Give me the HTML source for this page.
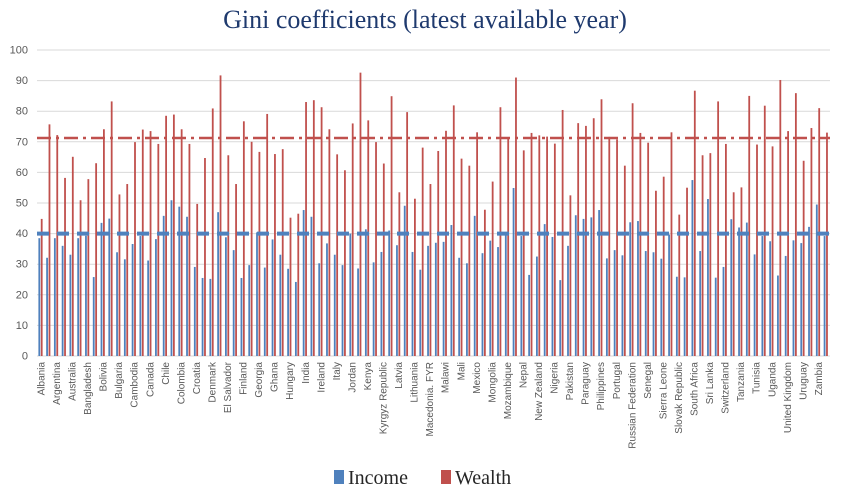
<!DOCTYPE html>
<html><head><meta charset="utf-8"><style>
html,body{margin:0;padding:0;background:#fff;}
svg{display:block;}
.yl{font-family:"Liberation Sans",sans-serif;font-size:11px;fill:#595959;text-anchor:end;}
.xl{font-family:"Liberation Sans",sans-serif;font-size:10px;fill:#595959;text-anchor:end;}
</style></head><body>
<svg id="c" width="849" height="496" viewBox="0 0 849 496" xmlns="http://www.w3.org/2000/svg">
<text x="425" y="28" text-anchor="middle" font-family="Liberation Serif,serif" font-size="26" fill="#1f3a6e">Gini coefficients (latest available year)</text>
<g id="grid"></g>
<g id="bars"></g>
<line x1="37" y1="138" x2="830" y2="138" stroke="#c0504d" stroke-width="2.5" stroke-dasharray="14 5 3 5"/>
<line x1="37" y1="233.6" x2="830" y2="233.6" stroke="#4f81bd" stroke-width="4" stroke-dasharray="12 8"/>
<g class="xl">
<text transform="translate(44.4,362) rotate(-90)">Albania</text>
<text transform="translate(60.0,362) rotate(-90)">Argentina</text>
<text transform="translate(75.5,362) rotate(-90)">Australia</text>
<text transform="translate(91.1,362) rotate(-90)">Bangladesh</text>
<text transform="translate(106.6,362) rotate(-90)">Bolivia</text>
<text transform="translate(122.2,362) rotate(-90)">Bulgaria</text>
<text transform="translate(137.7,362) rotate(-90)">Cambodia</text>
<text transform="translate(153.3,362) rotate(-90)">Canada</text>
<text transform="translate(168.8,362) rotate(-90)">Chile</text>
<text transform="translate(184.4,362) rotate(-90)">Colombia</text>
<text transform="translate(199.9,362) rotate(-90)">Croatia</text>
<text transform="translate(215.5,362) rotate(-90)">Denmark</text>
<text transform="translate(231.0,362) rotate(-90)">El Salvador</text>
<text transform="translate(246.6,362) rotate(-90)">Finland</text>
<text transform="translate(262.1,362) rotate(-90)">Georgia</text>
<text transform="translate(277.7,362) rotate(-90)">Ghana</text>
<text transform="translate(293.2,362) rotate(-90)">Hungary</text>
<text transform="translate(308.8,362) rotate(-90)">India</text>
<text transform="translate(324.3,362) rotate(-90)">Ireland</text>
<text transform="translate(339.9,362) rotate(-90)">Italy</text>
<text transform="translate(355.4,362) rotate(-90)">Jordan</text>
<text transform="translate(371.0,362) rotate(-90)">Kenya</text>
<text transform="translate(386.5,362) rotate(-90)">Kyrgyz Republic</text>
<text transform="translate(402.1,362) rotate(-90)">Latvia</text>
<text transform="translate(417.6,362) rotate(-90)">Lithuania</text>
<text transform="translate(433.2,362) rotate(-90)">Macedonia. FYR</text>
<text transform="translate(448.7,362) rotate(-90)">Malawi</text>
<text transform="translate(464.3,362) rotate(-90)">Mali</text>
<text transform="translate(479.8,362) rotate(-90)">Mexico</text>
<text transform="translate(495.4,362) rotate(-90)">Mongolia</text>
<text transform="translate(510.9,362) rotate(-90)">Mozambique</text>
<text transform="translate(526.5,362) rotate(-90)">Nepal</text>
<text transform="translate(542.0,362) rotate(-90)">New Zealand</text>
<text transform="translate(557.6,362) rotate(-90)">Nigeria</text>
<text transform="translate(573.1,362) rotate(-90)">Pakistan</text>
<text transform="translate(588.7,362) rotate(-90)">Paraguay</text>
<text transform="translate(604.2,362) rotate(-90)">Philippines</text>
<text transform="translate(619.8,362) rotate(-90)">Portugal</text>
<text transform="translate(635.3,362) rotate(-90)">Russian Federation</text>
<text transform="translate(650.9,362) rotate(-90)">Senegal</text>
<text transform="translate(666.4,362) rotate(-90)">Sierra Leone</text>
<text transform="translate(682.0,362) rotate(-90)">Slovak Republic</text>
<text transform="translate(697.5,362) rotate(-90)">South Africa</text>
<text transform="translate(713.1,362) rotate(-90)">Sri Lanka</text>
<text transform="translate(728.6,362) rotate(-90)">Switzerland</text>
<text transform="translate(744.2,362) rotate(-90)">Tanzania</text>
<text transform="translate(759.7,362) rotate(-90)">Tunisia</text>
<text transform="translate(775.3,362) rotate(-90)">Uganda</text>
<text transform="translate(790.8,362) rotate(-90)">United Kingdom</text>
<text transform="translate(806.4,362) rotate(-90)">Uruguay</text>
<text transform="translate(821.9,362) rotate(-90)">Zambia</text>
</g>
<g class="yl">
<text x="28" y="359.5">0</text><text x="28" y="328.9">10</text><text x="28" y="298.3">20</text><text x="28" y="267.7">30</text><text x="28" y="237.1">40</text><text x="28" y="206.5">50</text><text x="28" y="175.9">60</text><text x="28" y="145.3">70</text><text x="28" y="114.7">80</text><text x="28" y="84.1">90</text><text x="28" y="53.5">100</text>
</g>
<rect x="334" y="470" width="10" height="14" fill="#4f81bd"/>
<text x="348" y="484" font-family="Liberation Serif,serif" font-size="20" fill="#262626">Income</text>
<rect x="441" y="470" width="10" height="14" fill="#c0504d"/>
<text x="455" y="484" font-family="Liberation Serif,serif" font-size="20" fill="#262626">Wealth</text>
</svg>
<script>
var inc=[38.5,32.1,38.5,36,33.1,38.5,39.3,25.8,43.5,44.9,33.9,31.6,36.6,39.2,31.2,38.2,45.8,50.9,48.8,45.5,29.1,25.5,25.2,47,38.8,34.6,25.5,29.7,40.4,28.9,38.1,33.1,28.5,24.2,47.7,45.5,30.3,36.8,33.1,29.7,40,28.6,41.4,30.6,34,41,36.2,49.1,34,28.2,36,37,37.3,42.8,32.1,30.3,45.8,33.6,37.7,35.6,39.8,54.9,39.2,26.5,32.5,43.1,38.9,24.8,36,46,44.8,45.3,47.7,31.9,34.6,32.9,43.7,44.1,34.3,33.9,31.8,39.7,25.9,25.7,57.5,34.3,51.3,25.6,29.1,44.7,42,43.6,33.2,39.2,37.5,26.3,32.7,37.8,36.9,42.2,49.5,39.2];
var wea=[44.8,75.7,72.2,58.2,65.1,50.9,57.8,63,74.1,83.2,52.8,56.2,69.9,74,73.5,69.3,78.5,78.9,74.1,69.3,49.7,64.7,80.9,91.7,65.6,56.2,76.7,70,66.7,79.1,66,67.6,45.2,46.5,83,83.6,81.3,74.1,65.9,60.7,76,92.6,77,69.9,62.9,84.9,53.5,79.7,51.4,68.1,56.2,67,73.6,81.9,64.5,62.2,73.1,47.8,57,81.3,71,91,67.2,72.9,72.1,71.7,69.4,80.4,52.5,76.1,75.2,77.7,83.9,71.6,70.8,62.2,82.6,72.9,69.7,54,58.6,73.1,46.2,55,86.7,65.6,66.3,83.2,69.3,53.5,55.1,85,69.1,81.8,68.5,90.2,73.5,85.9,63.8,74.5,81,73];
var ns="http://www.w3.org/2000/svg",g=document.getElementById('grid'),b=document.getElementById('bars');
function el(p,t,a){var e=document.createElementNS(ns,t);for(var k in a)e.setAttribute(k,a[k]);p.appendChild(e);}
for(var v=0;v<=100;v+=10){var y=356-v*3.06;el(g,'line',{x1:37,x2:830,y1:y,y2:y,stroke:'#d9d9d9','stroke-width':1});}
for(var i=0;i<inc.length;i++){var x=38.4+7.775*i;
el(b,'rect',{x:x,y:356-inc[i]*3.06,width:1.8,height:inc[i]*3.06,fill:'#4f81bd'});
el(b,'rect',{x:x+2.4,y:356-wea[i]*3.06,width:1.8,height:wea[i]*3.06,fill:'#c0504d'});}
</script>
</body></html>
